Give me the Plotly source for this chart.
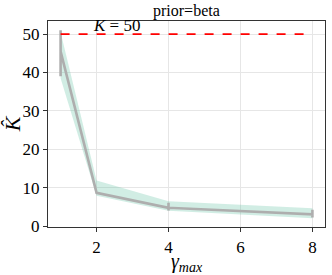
import plotly.graph_objects as go

gamma_max = [1, 2, 4, 8]
k_mean = [45.5, 8.7, 4.8, 3.1]
k_low = [38.5, 7.9, 4.0, 2.1]
k_high = [50.5, 11.9, 6.5, 4.7]
# per-x spread of runs (vertical segments of the line)
seg_low = [39.0, 8.5, 4.1, 2.3]
seg_high = [51.0, 8.9, 6.1, 4.3]
k_true = 50

FONT = "Liberation Serif"
fig = go.Figure()
fig.add_trace(go.Scatter(x=gamma_max, y=k_high, mode="lines", line=dict(width=0),
                         showlegend=False, hoverinfo="skip"))
fig.add_trace(go.Scatter(x=gamma_max, y=k_low, mode="lines", line=dict(width=0),
                         fill="tonexty", fillcolor="rgba(102,194,165,0.3)",
                         showlegend=False, hoverinfo="skip"))
px, py = [], []
for i, g in enumerate(gamma_max):
    if i == 0:
        px += [g, g, g]
        py += [seg_high[i], seg_low[i], k_mean[i]]
    elif i in (2, 3):
        px += [g, g, g, g]
        py += [k_mean[i], seg_high[i], seg_low[i], k_mean[i]]
    else:
        px.append(g)
        py.append(k_mean[i])
fig.add_trace(go.Scatter(x=px, y=py, mode="lines",
                         line=dict(color="#aeaeae", width=2.6), showlegend=False))
fig.add_trace(go.Scatter(x=[gamma_max[0], gamma_max[-1]], y=[k_true, k_true], mode="lines",
                         line=dict(color="red", width=1.8, dash="dash"), showlegend=False))
fig.add_annotation(x=2.55, y=k_true, yshift=9, text="<i>K</i> = 50", showarrow=False,
                   font=dict(family=FONT, size=17, color="black"))
fig.add_annotation(x=0.5, xref="paper", y=1, yref="paper", yanchor="bottom",
                   text="prior=beta", showarrow=False, yshift=-1,
                   font=dict(family=FONT, size=16, color="black"))

axis_common = dict(showgrid=True, gridcolor="#e6e6e6", gridwidth=1, zeroline=False,
                   showline=True, linecolor="#333333", linewidth=1.3, mirror=True,
                   ticks="outside", ticklen=4, tickcolor="#333333", automargin=False,
                   tickfont=dict(family=FONT, size=17, color="black"))
fig.update_layout(
    width=332, height=275,
    margin=dict(l=48, r=7, t=21, b=48),
    plot_bgcolor="white", paper_bgcolor="white",
    xaxis=dict(range=[0.65, 8.35], tickvals=[2, 4, 6, 8],
               title=dict(text="<i>γ<sub>max</sub></i>", standoff=0,
                          font=dict(family=FONT, size=20, color="black")),
               **axis_common),
    yaxis=dict(range=[-0.2, 53.4], tickvals=[0, 10, 20, 30, 40, 50],
               title=dict(text="<i>K̂</i>", standoff=4,
                          font=dict(family=FONT, size=22, color="black")),
               **axis_common),
)
fig.write_html("out.html", config={"displayModeBar": False},
               post_script="document.body.style.margin='0';")
